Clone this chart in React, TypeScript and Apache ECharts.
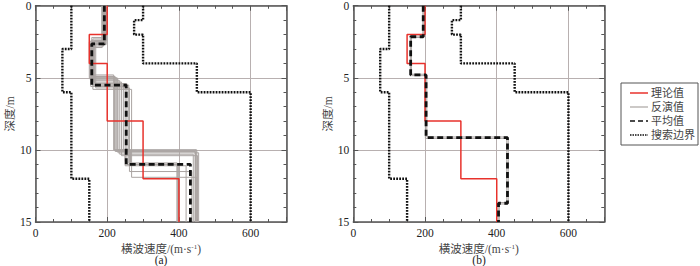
import React, { useEffect, useRef } from "react";
import * as echarts from "echarts";

// ---------- data ----------
const xTicks = [0, 200, 400, 600];
const yTicks = [0, 5, 10, 15];

// theoretical model (same in both panels)
const theoryVel = [200, 150, 200, 300, 400];
const theoryDepth = [0, 2, 4, 8, 12, 15];

// search bounds
const lowerVel = [100, 75, 100, 150];
const lowerDepth = [0, 3, 6, 12, 15];
const upperVel = [300, 275, 300, 450, 600];
const upperDepth = [0, 1, 2, 4, 6, 15];

// panel (a) mean
const meanVelA = [192, 157, 253, 432];
const meanDepthA = [0, 2.65, 5.5, 11.0, 15];

// panel (b) mean
const meanVelB = [195, 160, 203, 430, 405];
const meanDepthB = [0, 2.15, 4.8, 9.15, 13.7, 15];

// panel (a) inversion results (velocities / layer boundaries)
const invVelA = [
  [190, 155, 220, 450],
  [195, 158, 225, 445],
  [188, 152, 230, 455],
  [192, 160, 218, 448],
  [197, 156, 235, 440],
  [185, 162, 240, 452],
  [190, 158, 245, 265, 395],
  [193, 154, 250, 255, 400],
  [198, 165, 255, 398],
  [186, 160, 268, 450],
  [191, 150, 228, 250, 420],
  [194, 163, 260, 395],
  [189, 157, 222, 446],
  [196, 168, 262, 436],
];
const invDepthA = [
  [0, 2.4, 4.9, 10.0, 15],
  [0, 2.5, 5.0, 10.1, 15],
  [0, 2.6, 5.1, 10.2, 15],
  [0, 2.3, 4.8, 10.0, 15],
  [0, 2.7, 5.2, 10.3, 15],
  [0, 2.5, 5.3, 10.4, 15],
  [0, 2.8, 5.5, 10.0, 11.0, 15],
  [0, 2.6, 5.6, 10.8, 11.0, 15],
  [0, 2.4, 5.4, 11.0, 15],
  [0, 2.9, 5.8, 11.9, 15],
  [0, 2.5, 5.0, 10.0, 11.1, 15],
  [0, 2.7, 5.5, 10.9, 15],
  [0, 2.2, 4.9, 10.1, 15],
  [0, 2.6, 5.7, 11.5, 15],
];

// panel (b) inversion results
const invVelB = [
  [197, 162, 205, 432, 407],
  [194, 159, 201, 428, 404],
];
const invDepthB = [
  [0, 2.2, 4.85, 9.1, 13.75, 15],
  [0, 2.1, 4.75, 9.2, 13.65, 15],
];

const legendNames = ["理论值", "反演值", "平均值", "搜索边界"];

// ---------- helpers ----------
function steps(vel: number[], depth: number[]) {
  const pts: number[][] = [];
  vel.forEach((v, i) => {
    pts.push([v, depth[i]], [v, depth[i + 1]]);
  });
  return pts;
}

const SERIF = "'Liberation Serif', 'Noto Sans CJK SC', serif";
const AX = "#555";
const RED = "#e8322c";
const GRAY = "#aaa4a2";

function lineSeries(name: string, data: number[][], idx: number, style: any, z: number) {
  return {
    type: "line",
    name,
    data,
    xAxisIndex: idx * 2,
    yAxisIndex: idx * 2,
    symbol: "none",
    showSymbol: false,
    itemStyle: { color: style.color },
    lineStyle: style,
    z,
    silent: true,
  };
}

export default function App() {
  const ref = useRef<HTMLDivElement>(null);
  useEffect(() => {
    document.body.style.margin = "0";
    const chart = echarts.init(ref.current!, null, { renderer: "svg" });

    const grids = [
      { left: 35.5, top: 3.5, width: 251, height: 218.5 },
      { left: 353.3, top: 3.5, width: 251, height: 218.5 },
    ];
    const yNameGap = [20, 17];

    const xAxis: any[] = [];
    const yAxis: any[] = [];
    grids.forEach((_, g) => {
      const common = {
        type: "value",
        gridIndex: g,
        min: 0,
        max: 700,
        interval: 200,
        axisLine: { show: true, onZero: false, lineStyle: { color: AX, width: 1.5 } },
        axisTick: { show: true, inside: true, length: 5, lineStyle: { color: AX } },
        minorTick: { show: true, splitNumber: 4, length: 3, lineStyle: { color: AX } },
      };
      xAxis.push({
        ...common,
        position: "bottom",
        axisLabel: {
          fontFamily: SERIF,
          fontSize: 11.5,
          color: "#222",
          margin: 5,
          customValues: xTicks,
        },
        splitLine: { show: true, lineStyle: { color: "#b8b0b0", width: 1 } },
        name: "{t|横波速度/(m·s}{s|-1}{t|)}",
        nameLocation: "middle",
        nameGap: 18,
        nameTextStyle: {
          lineHeight: 12,
          rich: {
            t: { fontFamily: SERIF, fontSize: 11.5, color: "#444", lineHeight: 12 },
            s: { fontFamily: SERIF, fontSize: 7, color: "#444", verticalAlign: "top", lineHeight: 8 },
          },
        },
      });
      xAxis.push({
        ...common,
        position: "top",
        axisLabel: { show: false },
        splitLine: { show: false },
      });
      const ycommon = {
        type: "value",
        gridIndex: g,
        min: 0,
        max: 15,
        interval: 5,
        inverse: true,
        axisLine: { show: true, onZero: false, lineStyle: { color: AX, width: 1.5 } },
        axisTick: { show: true, inside: true, length: 5, lineStyle: { color: AX } },
        minorTick: { show: true, splitNumber: 5, length: 3, lineStyle: { color: AX } },
      };
      yAxis.push({
        ...ycommon,
        position: "left",
        axisLabel: {
          fontFamily: SERIF,
          fontSize: 11.5,
          color: "#222",
          margin: 4,
          customValues: yTicks,
        },
        splitLine: { show: true, lineStyle: { color: "#b8b0b0", width: 1 } },
        name: "深度/m",
        nameLocation: "middle",
        nameGap: yNameGap[g],
        nameRotate: 90,
        nameTextStyle: { fontFamily: SERIF, fontSize: 11.5, color: "#444" },
      });
      yAxis.push({
        ...ycommon,
        position: "right",
        axisLabel: { show: false },
        splitLine: { show: false },
      });
    });

    const series: any[] = [];
    const grayStyle = { color: GRAY, width: 1 };
    const redStyle = { color: RED, width: 1.5 };
    const meanStyle = { color: "#111", width: 2.8, type: [6, 3.5], cap: "butt" };
    const dotStyle = { color: "#111", width: 2.4, type: [1.8, 1.2], cap: "butt" };

    // panel (a)
    invVelA.forEach((v, i) => {
      series.push(lineSeries("反演值", steps(v, invDepthA[i]), 0, grayStyle, 3));
    });
    series.push(lineSeries("理论值", steps(theoryVel, theoryDepth), 0, redStyle, 4));
    series.push(lineSeries("平均值", steps(meanVelA, meanDepthA), 0, meanStyle, 5));
    series.push(lineSeries("搜索边界", steps(lowerVel, lowerDepth), 0, dotStyle, 5));
    series.push(lineSeries("搜索边界", steps(upperVel, upperDepth), 0, dotStyle, 5));

    // panel (b)
    invVelB.forEach((v, i) => {
      series.push(lineSeries("反演值", steps(v, invDepthB[i]), 1, grayStyle, 3));
    });
    series.push(lineSeries("理论值", steps(theoryVel, theoryDepth), 1, redStyle, 4));
    series.push(lineSeries("平均值", steps(meanVelB, meanDepthB), 1, meanStyle, 5));
    series.push(lineSeries("搜索边界", steps(lowerVel, lowerDepth), 1, dotStyle, 5));
    series.push(lineSeries("搜索边界", steps(upperVel, upperDepth), 1, dotStyle, 5));

    // legend drawn as graphic
    const legendStyles = [
      { stroke: RED, lineWidth: 1.5 },
      { stroke: GRAY, lineWidth: 1.2 },
      { stroke: "#111", lineWidth: 1.5, lineDash: [5, 3] },
      { stroke: "#111", lineWidth: 1.5, lineDash: [1.5, 1] },
    ];
    const rowY = [93, 107, 121, 135];
    const legendChildren: any[] = [
      {
        type: "rect",
        shape: { x: 621, y: 83, width: 77, height: 62 },
        style: { fill: "#fff", stroke: AX, lineWidth: 1 },
      },
    ];
    legendNames.forEach((n, i) => {
      legendChildren.push({
        type: "line",
        shape: { x1: 630, y1: rowY[i], x2: 648, y2: rowY[i] },
        style: legendStyles[i],
      });
      legendChildren.push({
        type: "text",
        x: 651,
        y: rowY[i],
        style: {
          text: n,
          font: "11px 'Liberation Serif', 'Noto Sans CJK SC'",
          lineHeight: 11,
          fill: "#444",
          verticalAlign: "middle",
          align: "left",
        },
      });
    });

    chart.setOption({
      animation: false,
      grid: grids,
      xAxis,
      yAxis,
      series,
      graphic: [
        { type: "group", children: legendChildren },
        {
          type: "text",
          x: 161,
          y: 260,
          style: { text: "(a)", font: "11.5px 'Liberation Serif'", fill: "#222", align: "center", verticalAlign: "middle" },
        },
        {
          type: "text",
          x: 479,
          y: 260,
          style: { text: "(b)", font: "11.5px 'Liberation Serif'", fill: "#222", align: "center", verticalAlign: "middle" },
        },
      ],
    });
    return () => chart.dispose();
  }, []);
  return <div ref={ref} style={{ width: 700, height: 266 }} />;
}
